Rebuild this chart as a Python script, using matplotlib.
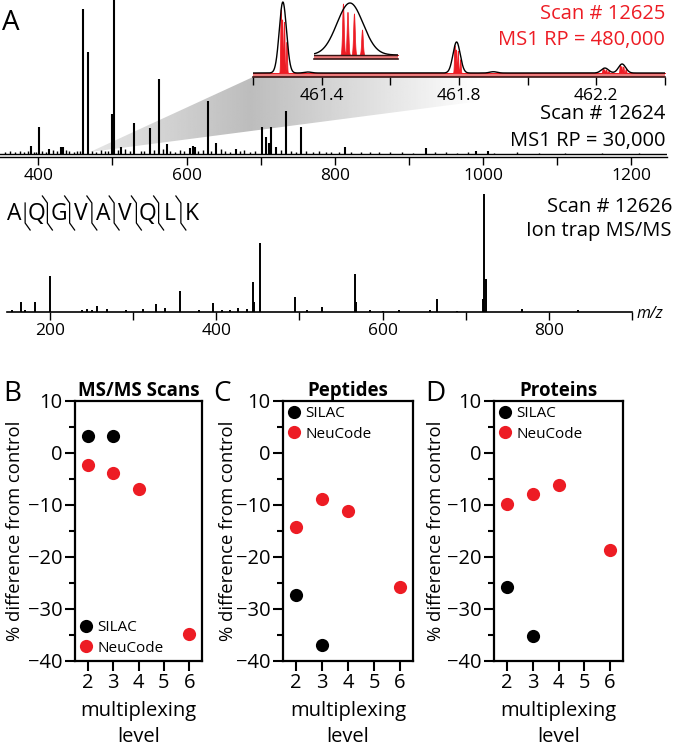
import numpy as np
import matplotlib
matplotlib.use("Agg")
import matplotlib.pyplot as plt
from matplotlib.patches import Polygon
from matplotlib.ticker import MultipleLocator
from matplotlib.lines import Line2D

plt.rcParams['font.family'] = ['Open Sans', 'DejaVu Sans']

RED = '#ed1c24'

# ---------------- data ----------------
# MS1 survey scan 12624 (relative intensity, base peak = 100)
ms1_mz = [390.5, 401.4, 415.0, 430.0, 433.0, 460.9, 467.6, 499.3, 502.3, 512.0,
          529.4, 550.0, 562.2, 573.0, 605.0, 608.5, 611.5, 628.5, 639.5, 667.0,
          702.0, 707.5, 710.5, 714.0, 720.0, 733.6, 754.0, 813.6, 923.0, 991.0, 1006.0]
ms1_int = [4.7, 15.9, 2.9, 4.1, 4.1, 85.3, 59.8, 23.5, 100.0, 4.1,
           18.2, 15.3, 44.1, 5.9, 3.5, 4.7, 4.1, 31.0, 6.5, 2.9,
           15.9, 9.8, 6.5, 15.7, 4.1, 25.1, 15.9, 4.1, 3.5, 1.8, 1.8]
ms1_minor_mz = [355, 362, 368, 375, 381, 386, 394, 397, 405, 410, 420, 425, 437, 442,
                448, 452, 456, 473, 478, 485, 490, 494, 507, 517, 523, 538, 543, 556,
                568, 578, 584, 591, 597, 616, 622, 633, 646, 652, 658, 672, 678, 686,
                692, 727, 741, 747, 761, 770, 779, 788, 795, 805, 822, 835, 848, 860,
                875, 890, 905, 935, 950, 965, 980, 1015, 1045, 1075, 1110, 1160, 1210]
ms1_minor_int = [1.2, 1.8, 1.0, 1.5, 1.2, 2.0, 1.4, 1.1, 1.6, 1.3, 2.2, 1.5, 2.6, 1.8,
                 1.4, 2.0, 1.6, 1.8, 1.3, 2.3, 1.5, 1.9, 2.4, 2.8, 1.6, 2.0, 1.5, 2.2,
                 3.0, 1.9, 1.4, 2.1, 1.6, 1.8, 2.4, 1.7, 2.9, 1.5, 1.3, 1.6, 2.2, 1.4,
                 2.0, 2.4, 1.6, 1.3, 1.5, 1.2, 1.6, 1.1, 1.4, 1.0, 1.2, 0.9, 1.1, 1.0,
                 0.9, 1.0, 0.8, 0.9, 1.0, 0.8, 0.9, 0.8, 0.9, 0.8, 0.8, 0.7, 0.8]

# high-resolution inset (scan 12625): peak centres and envelope heights
inset_mz = [461.287, 461.360, 461.793, 461.900, 462.225, 462.275]
inset_int = [100.0, 1.4, 43.7, 1.8, 7.0, 12.7]
# NeuCode sub-peaks resolved at 480,000 (offset m/z, relative height)
neucode_offset = [-0.0062, -0.0022, 0.0035, 0.0106]
neucode_rel = [0.99, 0.83, 0.80, 0.49]
inset_ticks = [461.2, 461.4, 461.6, 461.8, 462.0, 462.2, 462.4]
inset_ticklabels = ['', '461.4', '', '461.8', '', '462.2', '']

# ion trap MS/MS scan 12626
ms2_mz = [154.7, 165.0, 170.0, 182.0, 199.6, 239.0, 244.0, 250.0, 256.5, 268.0,
          292.0, 311.5, 327.5, 338.7, 356.0, 379.6, 395.6, 406.5, 416.5, 426.0,
          436.6, 443.7, 445.2, 452.5, 495.0, 509.0, 526.7, 566.8, 568.3, 585.0,
          600.0, 620.0, 657.0, 665.8, 690.0, 721.0, 722.3, 724.0, 768.0, 835.0]
ms2_int = [1.7, 8.5, 1.7, 8.5, 30.3, 1.7, 2.2, 1.7, 4.8, 2.5,
           1.7, 2.5, 7.1, 3.1, 17.6, 1.5, 7.6, 1.5, 1.5, 3.7,
           2.5, 25.5, 8.5, 58.9, 13.0, 1.5, 4.2, 32.0, 8.5, 1.3,
           1.2, 1.3, 1.7, 11.3, 1.2, 11.3, 100.0, 27.8, 2.8, 1.7]

peptide = list("AQGVAVQLK")

# panels B-D
silac_levels = [2, 3]
neucode_levels = [2, 3, 4, 6]
msms_silac = [3.2, 3.2]
msms_neucode = [-2.3, -3.9, -6.9, -34.8]
pep_silac = [-27.3, -37.0]
pep_neucode = [-14.2, -8.9, -11.2, -25.8]
prot_silac = [-25.8, -35.1]
prot_neucode = [-9.9, -7.8, -6.2, -18.7]
level_ticks = [2, 3, 4, 5, 6]

# ---------------- figure ----------------
W, H = 675, 754
fig = plt.figure(figsize=(W / 100, H / 100), dpi=100)


def px_axes(l, t, r, b, z=1):
    a = fig.add_axes([l / W, 1 - b / H, (r - l) / W, (b - t) / H], zorder=z)
    a.patch.set_alpha(0)
    return a


# grey zoom wedge
bg = px_axes(0, 0, W, H, z=0)
wedge = Polygon([(90, 152), (253, 77), (665, 77)], closed=True,
                facecolor='none', edgecolor='none')
bg.add_patch(wedge)
gx = np.linspace(90, 665, 400)
shade = np.interp(gx, [90, 250, 480], [0.10, 0.26, 0.0])
im = bg.imshow((1 - shade)[None, :], extent=[90, 665, 152, 77], cmap='gray',
               vmin=0, vmax=1, aspect='auto', interpolation='bilinear')
im.set_clip_path(wedge)
bg.set_xlim(0, W)
bg.set_ylim(H, 0)
bg.axis('off')

# --- MS1 spectrum ---
k = 1 / 1.7
ax1 = px_axes(0, 0, 667, 157, z=2)
ax1.vlines(ms1_minor_mz, 0, ms1_minor_int, color='k', lw=1.0)
ax1.vlines(ms1_mz, 0, ms1_int, color='k', lw=1.5)
ax1.axhline(0, color='k', lw=1.0)
ax1.set_xlim(348.3, 1248)
ax1.set_ylim(-3 * k, 154 * k)
for s in ['top', 'right', 'left']:
    ax1.spines[s].set_visible(False)
ax1.spines['bottom'].set_linewidth(1.0)
ax1.set_yticks([])
ax1.xaxis.set_major_locator(MultipleLocator(200))
ax1.xaxis.set_minor_locator(MultipleLocator(100))
ax1.tick_params(axis='x', which='both', direction='out', length=6, width=1,
                labelsize=12.5, pad=2)

# --- inset high resolution ---
xf = np.linspace(461.2, 462.4, 30001)
sig_lo = 0.0105
sig_hi = 0.0013
black = np.zeros_like(xf)
redp = np.zeros_like(xf)
for c, h in zip(inset_mz, inset_int):
    black += h * np.exp(-(xf - c) ** 2 / (2 * sig_lo ** 2))
    if h > 3:
        for o, r in zip(neucode_offset, neucode_rel):
            redp += 0.9 * h * r * np.exp(-(xf - c - o) ** 2 / (2 * sig_hi ** 2))
u2 = 100 / 71
ax2 = px_axes(253, 0, 665, 77, z=3)
ax2.axhspan(-4 * u2, 0, color='#ec7b7b', lw=0)
ax2.fill_between(xf, 0, redp, color=RED, lw=0.6, edgecolor=RED)
ax2.plot(xf, black, color='k', lw=1.0)
ax2.set_xlim(461.2, 462.4)
ax2.set_ylim(-4 * u2, 73 * u2)
for s in ['top', 'right', 'left']:
    ax2.spines[s].set_visible(False)
ax2.spines['bottom'].set_color('#3a1414')
ax2.spines['bottom'].set_linewidth(1.2)
ax2.set_yticks([])
ax2.set_xticks(inset_ticks)
ax2.set_xticklabels(inset_ticklabels)
ax2.tick_params(axis='x', direction='out', length=6, width=1, labelsize=12.5, pad=2)

# --- sub-inset (magnified main peak) ---
c0 = inset_mz[0]
xs = np.linspace(c0 - 0.0317, c0 + 0.0423, 4001)
env = 100 * np.exp(-(xs - c0) ** 2 / (2 * 0.0115 ** 2))
sub = np.zeros_like(xs)
for o, r in zip(neucode_offset, neucode_rel):
    sub += 100 * r * np.exp(-(xs - c0 - o) ** 2 / (2 * 0.0007 ** 2))
u3 = 100 / 52
ax3 = px_axes(314, 0, 398, 59, z=3)
ax3.axhspan(-4 * u3, 0, color='#ec7b7b', lw=0)
ax3.fill_between(xs, 0, sub, color=RED, lw=0.5, edgecolor=RED)
ax3.plot(xs, env, color='k', lw=1.0)
ax3.axhline(0, color='#3a1414', lw=1.0)
ax3.set_xlim(xs[0], xs[-1])
ax3.set_ylim(-4 * u3, 55 * u3)
for s in ['top', 'right', 'left']:
    ax3.spines[s].set_visible(False)
ax3.spines['bottom'].set_color('#3a1414')
ax3.spines['bottom'].set_linewidth(1.2)
ax3.set_xticks([])
ax3.set_yticks([])

# --- MS/MS spectrum ---
ax4 = px_axes(7, 185, 632, 312, z=2)
ax4.vlines(ms2_mz, 0, ms2_int, color='k', lw=1.4)
ax4.set_xlim(148.3, 900)
ax4.set_ylim(0, 107.9)
for s in ['top', 'right', 'left']:
    ax4.spines[s].set_visible(False)
ax4.spines['bottom'].set_linewidth(1.2)
ax4.set_yticks([])
ax4.xaxis.set_major_locator(MultipleLocator(200))
ax4.xaxis.set_minor_locator(MultipleLocator(100))
ax4.tick_params(axis='x', which='both', direction='out', length=6, width=1,
                labelsize=12.5, pad=2)

# --- overlay texts ---
ov = px_axes(0, 0, W, H, z=5)
ov.set_xlim(0, W)
ov.set_ylim(H, 0)
ov.axis('off')
ov.text(2, 30, 'A', fontsize=20, ha='left', va='baseline')
ov.text(665, 14, 'Scan # 12625', color=RED, fontsize=14.5, ha='right', va='center')
ov.text(665, 40, 'MS1 RP = 480,000', color=RED, fontsize=14.5, ha='right', va='center')
ov.text(665, 114, 'Scan # 12624', color='k', fontsize=14.5, ha='right', va='center')
ov.text(665, 141, 'MS1 RP = 30,000', color='k', fontsize=14.5, ha='right', va='center')
ov.text(672, 207, 'Scan # 12626', color='k', fontsize=14.5, ha='right', va='center')
ov.text(672, 231, 'Ion trap MS/MS', color='k', fontsize=14.5, ha='right', va='center')
ov.text(637, 314, 'm/z', fontsize=11.5, style='italic', ha='left', va='center')

# peptide sequence with fragment markers
pos0, step = 14, 22.25
for i, aa in enumerate(peptide):
    ov.text(pos0 + i * step, 220.5, aa, fontsize=16.5, ha='center', va='baseline')
for i in range(len(peptide) - 1):
    xm = pos0 + (i + 0.5) * step
    xs_ = [xm, xm, xm + 5]
    ys_ = [203, 223, 230]
    if i > 0:
        xs_ = [xm - 5] + xs_
        ys_ = [196] + ys_
    ov.add_line(Line2D(xs_, ys_, color='k', lw=0.9))

# --- panels B-D ---
panels = [
    (75, 202, 'MS/MS Scans', msms_silac, msms_neucode, 'lower left', 'B', 3, 15),
    (283, 413, 'Peptides', pep_silac, pep_neucode, 'upper left', 'C', 213, 228),
    (494, 623, 'Proteins', prot_silac, prot_neucode, 'upper left', 'D', 425, 436),
]
for (l, r, title, sil, neu, loc, letter, lx, ylx) in panels:
    ax = px_axes(l, 401, r, 661, z=2)
    ax.plot(silac_levels, sil, 'o', color='k', ms=9.5, label='SILAC', mec='none')
    ax.plot(neucode_levels, neu, 'o', color=RED, ms=9.5, label='NeuCode', mec='none')
    ax.set_xlim(1.5, 6.5)
    ax.set_ylim(-40, 10)
    ax.set_xticks(level_ticks)
    ax.yaxis.set_major_locator(MultipleLocator(10))
    ax.yaxis.set_minor_locator(MultipleLocator(5))
    for s in ax.spines.values():
        s.set_linewidth(1.6)
    ax.tick_params(axis='both', which='major', direction='out', length=7, width=1.5,
                   labelsize=14.5, pad=2)
    ax.tick_params(axis='y', which='minor', direction='out', length=4.5, width=1.5)
    ax.set_title(title, fontsize=13.5, fontweight='bold', pad=3)
    ax.set_ylabel('% difference from control', fontsize=13.3)
    ax.yaxis.set_label_coords((ylx - l) / (r - l), 0.5)
    ax.yaxis.label.set_va('center')
    ax.set_xlabel('multiplexing\nlevel', fontsize=14.5, linespacing=1.35)
    ax.xaxis.set_label_coords(0.5, -0.155)
    ax.xaxis.label.set_va('top')
    ax.legend(loc=loc, frameon=False, fontsize=11, numpoints=1, handlelength=0.8,
              handletextpad=0.3, borderaxespad=0.1, borderpad=0.25, labelspacing=0.35)
    ov.text(lx, 401, letter, fontsize=20, ha='left', va='baseline')

fig.savefig('out.png', dpi=100)
